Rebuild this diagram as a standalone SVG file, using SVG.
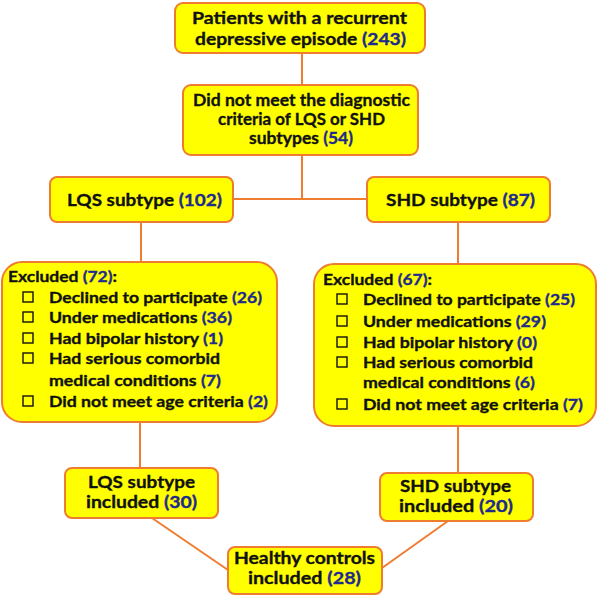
<svg xmlns="http://www.w3.org/2000/svg" width="598" height="596" viewBox="0 0 598 596">
<style>
.box{fill:#ffff00;stroke:#ee7d31;stroke-width:2}
.ln{stroke:#ee7d31;stroke-width:2;fill:none}
text{font-family:Lato,"Open Sans","Liberation Sans",sans-serif;font-weight:bold;fill:#111;stroke:#111;stroke-width:0.35}
.c{text-anchor:middle}
.big{font-size:17.5px}
.sm{font-size:16px}
.n{fill:#1e2a8c;stroke:#1e2a8c}
.cb{fill:none;stroke:#111;stroke-width:1.4}
</style>
<rect width="598" height="596" fill="#fff"/>
<g id="connectors">
<line class="ln" x1="302" y1="53" x2="302" y2="85"/>
<polyline class="ln" points="302,155 302,199"/>
<line class="ln" x1="233" y1="199" x2="367" y2="199"/>
<line class="ln" x1="141" y1="222" x2="141" y2="262"/>
<line class="ln" x1="458" y1="222" x2="458" y2="264"/>
<line class="ln" x1="140" y1="422" x2="140" y2="468"/>
<line class="ln" x1="458" y1="426" x2="458" y2="473"/>
<line class="ln" x1="152" y1="518" x2="228" y2="570"/>
<line class="ln" x1="448" y1="521" x2="382" y2="568"/>
</g>
<g id="patients">
<rect class="box" x="175" y="3" width="250" height="50" rx="8"/>
<text class="c big" x="299.5" y="24" textLength="215" lengthAdjust="spacingAndGlyphs">Patients with a recurrent</text>
<text class="c big" x="300.5" y="45" textLength="211" lengthAdjust="spacingAndGlyphs">depressive episode <tspan class="n">(243)</tspan></text>
</g>
<g id="notmeet">
<rect class="box" x="183" y="85" width="235" height="70" rx="8"/>
<text class="c big" x="301.5" y="106" textLength="217" lengthAdjust="spacingAndGlyphs">Did not meet the diagnostic</text>
<text class="c big" x="301.5" y="125" textLength="167" lengthAdjust="spacingAndGlyphs">criteria of LQS or SHD</text>
<text class="c big" x="301" y="144" textLength="104" lengthAdjust="spacingAndGlyphs">subtypes <tspan class="n">(54)</tspan></text>
</g>
<g id="lqs">
<rect class="box" x="50" y="177" width="183" height="45" rx="7"/>
<text class="c big" x="144.5" y="206" textLength="155" lengthAdjust="spacingAndGlyphs">LQS subtype <tspan class="n">(102)</tspan></text>
</g>
<g id="shd">
<rect class="box" x="367" y="177" width="183" height="45" rx="7"/>
<text class="c big" x="460.5" y="206" textLength="149" lengthAdjust="spacingAndGlyphs">SHD subtype <tspan class="n">(87)</tspan></text>
</g>
<g id="excl-left">
<rect class="box" x="2" y="262" width="275" height="160" rx="20"/>
<text class="sm" x="8" y="282" textLength="109" lengthAdjust="spacingAndGlyphs">Excluded <tspan class="n">(72)</tspan>:</text>
<rect class="cb" x="23" y="292" width="10" height="10"/>
<rect class="cb" x="23" y="312" width="10" height="10"/>
<rect class="cb" x="23" y="333" width="10" height="10"/>
<rect class="cb" x="23" y="353" width="10" height="10"/>
<rect class="cb" x="23" y="396" width="10" height="10"/>
<text class="sm" x="49" y="303" textLength="213" lengthAdjust="spacingAndGlyphs">Declined to participate <tspan class="n">(26)</tspan></text>
<text class="sm" x="49" y="323" textLength="183" lengthAdjust="spacingAndGlyphs">Under medications <tspan class="n">(36)</tspan></text>
<text class="sm" x="49" y="344" textLength="174" lengthAdjust="spacingAndGlyphs">Had bipolar history <tspan class="n">(1)</tspan></text>
<text class="sm" x="49" y="364" textLength="171" lengthAdjust="spacingAndGlyphs">Had serious comorbid</text>
<text class="sm" x="49" y="386" textLength="172" lengthAdjust="spacingAndGlyphs">medical conditions <tspan class="n">(7)</tspan></text>
<text class="sm" x="49" y="407" textLength="219" lengthAdjust="spacingAndGlyphs">Did not meet age criteria <tspan class="n">(2)</tspan></text>
</g>
<g id="excl-right">
<rect class="box" x="314" y="264" width="282" height="162" rx="20"/>
<text class="sm" x="323" y="285" textLength="109" lengthAdjust="spacingAndGlyphs">Excluded <tspan class="n">(67)</tspan>:</text>
<rect class="cb" x="337" y="294" width="10" height="10"/>
<rect class="cb" x="337" y="316" width="10" height="10"/>
<rect class="cb" x="337" y="337" width="10" height="10"/>
<rect class="cb" x="337" y="357" width="10" height="10"/>
<rect class="cb" x="337" y="399" width="10" height="10"/>
<text class="sm" x="363" y="305" textLength="212" lengthAdjust="spacingAndGlyphs">Declined to participate <tspan class="n">(25)</tspan></text>
<text class="sm" x="363" y="327" textLength="183" lengthAdjust="spacingAndGlyphs">Under medications <tspan class="n">(29)</tspan></text>
<text class="sm" x="363" y="348" textLength="174" lengthAdjust="spacingAndGlyphs">Had bipolar history <tspan class="n">(0)</tspan></text>
<text class="sm" x="363" y="368" textLength="170" lengthAdjust="spacingAndGlyphs">Had serious comorbid</text>
<text class="sm" x="363" y="388" textLength="172" lengthAdjust="spacingAndGlyphs">medical conditions <tspan class="n">(6)</tspan></text>
<text class="sm" x="363" y="410" textLength="220" lengthAdjust="spacingAndGlyphs">Did not meet age criteria <tspan class="n">(7)</tspan></text>
</g>
<g id="lqs-inc">
<rect class="box" x="65" y="468" width="153" height="50" rx="7"/>
<text class="c big" x="141.5" y="488" textLength="107" lengthAdjust="spacingAndGlyphs">LQS subtype</text>
<text class="c big" x="141.5" y="508" textLength="111" lengthAdjust="spacingAndGlyphs">included <tspan class="n">(30)</tspan></text>
</g>
<g id="shd-inc">
<rect class="box" x="380" y="473" width="153" height="48" rx="7"/>
<text class="c big" x="455.5" y="492" textLength="111" lengthAdjust="spacingAndGlyphs">SHD subtype</text>
<text class="c big" x="456" y="512" textLength="114" lengthAdjust="spacingAndGlyphs">included <tspan class="n">(20)</tspan></text>
</g>
<g id="healthy">
<rect class="box" x="228" y="547" width="154" height="47" rx="7"/>
<text class="c big" x="304.5" y="564" textLength="141" lengthAdjust="spacingAndGlyphs">Healthy controls</text>
<text class="c big" x="304.5" y="584" textLength="113" lengthAdjust="spacingAndGlyphs">included <tspan class="n">(28)</tspan></text>
</g>
</svg>
